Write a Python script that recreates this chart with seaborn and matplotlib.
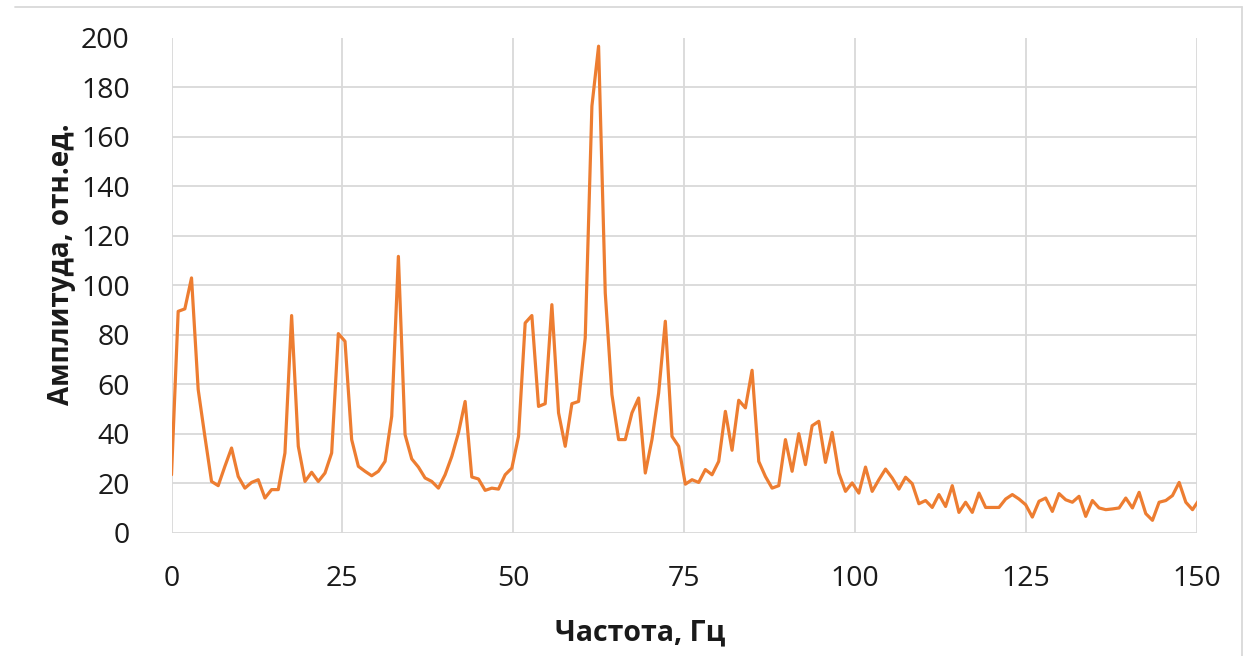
import numpy as np
import pandas as pd
import matplotlib
matplotlib.use("Agg")
import matplotlib.pyplot as plt
import seaborn as sns
from matplotlib.lines import Line2D

# ---- data ----
freq_step = 1000 / 1024  # Hz between spectrum points
amplitude = [
    23.4, 89.4, 90.4, 102.9, 57.8, 38.9, 20.7, 19.0, 26.8, 34.2,
    22.7, 18.0, 20.3, 21.4, 14.0, 17.4, 17.4, 32.2, 87.7, 34.9,
    20.7, 24.4, 20.7, 24.1, 32.2, 80.4, 77.3, 37.6, 26.8, 24.8,
    23.0, 24.8, 28.8, 47.0, 111.6, 39.6, 29.8, 26.5, 22.1, 20.7,
    18.0, 23.4, 30.8, 40.3, 53.0, 22.5, 21.7, 17.1, 18.0, 17.6,
    23.4, 26.1, 38.9, 84.7, 87.7, 51.0, 52.1, 92.1, 48.4, 34.9,
    52.1, 53.0, 78.7, 172.3, 196.5, 96.8, 55.8, 37.6, 37.6, 48.4,
    54.4, 24.1, 37.6, 56.4, 85.4, 38.9, 34.9, 19.6, 21.4, 20.3,
    25.5, 23.4, 28.8, 49.0, 33.3, 53.5, 50.4, 65.6, 28.8, 22.7,
    18.0, 19.0, 37.6, 24.8, 40.0, 27.5, 43.2, 45.0, 28.4, 40.5,
    24.1, 16.7, 20.1, 16.0, 26.5, 16.7, 21.4, 25.7, 22.1, 17.6,
    22.4, 19.8, 11.7, 13.0, 10.2, 15.4, 10.6, 19.0, 8.2, 12.3,
    8.2, 16.0, 10.2, 10.2, 10.2, 13.6, 15.4, 13.6, 11.3, 6.3,
    12.7, 14.0, 8.6, 15.8, 13.3, 12.3, 14.7, 6.6, 13.0, 10.0,
    9.3, 9.6, 10.0, 14.0, 10.0, 16.3, 7.7, 5.0, 12.3, 13.0,
    15.0, 20.3, 12.3, 9.3, 13.3,
]
x_ticks = [0, 25, 50, 75, 100, 125, 150]
y_ticks = [0, 20, 40, 60, 80, 100, 120, 140, 160, 180, 200]
x_label = "Частота, Гц"
y_label = "Амплитуда, отн.ед."

freq = np.arange(len(amplitude)) * freq_step
df = pd.DataFrame({"freq": freq, "amp": amplitude})

# ---- style ----
sns.set_theme(style="white")
plt.rcParams["font.family"] = ["Open Sans", "DejaVu Sans"]

W, H = 1255, 656
fig = plt.figure(figsize=(W / 100, H / 100), dpi=100)
left, right = 171.5 / W, 1196.5 / W
bottom, top = 1 - 532.7 / H, 1 - 37.5 / H
ax = fig.add_axes([left, bottom, right - left, top - bottom])

grid_c = "#D9D9D9"
ax.set_axisbelow(True)
ax.grid(True, color=grid_c, linewidth=1.3)

sns.lineplot(data=df, x="freq", y="amp", ax=ax, color="#ED7D31",
             linewidth=2.3, legend=False)

ax.set_xlim(0, 150)
ax.set_ylim(0, 200)
ax.set_xticks(x_ticks)
ax.set_yticks(y_ticks)
ax.tick_params(axis="both", length=0, labelsize=20.5, colors="#1a1a1a")
ax.tick_params(axis="x", pad=23)
ax.tick_params(axis="y", pad=30)
for s in ax.spines.values():
    s.set_visible(False)
ax.set_xlabel("")
ax.set_ylabel("")

fig.text(640 / W, 1 - 633 / H, x_label, ha="center", va="center",
         fontsize=20.5, fontweight="bold", color="#1a1a1a")
fig.text(62 / W, 1 - 264 / H, y_label, ha="center", va="center",
         rotation=90, fontsize=20, fontweight="bold", color="#1a1a1a")

# chart-area border (top and right edges visible in the reference)
fig.add_artist(Line2D([15 / W, 1241.7 / W], [1 - 7.3 / H, 1 - 7.3 / H],
                      transform=fig.transFigure, color=grid_c, linewidth=1.3))
fig.add_artist(Line2D([1241.7 / W, 1241.7 / W], [1 - 7.3 / H, 0],
                      transform=fig.transFigure, color=grid_c, linewidth=1.3))

fig.savefig("out.png", dpi=100, facecolor="white")
